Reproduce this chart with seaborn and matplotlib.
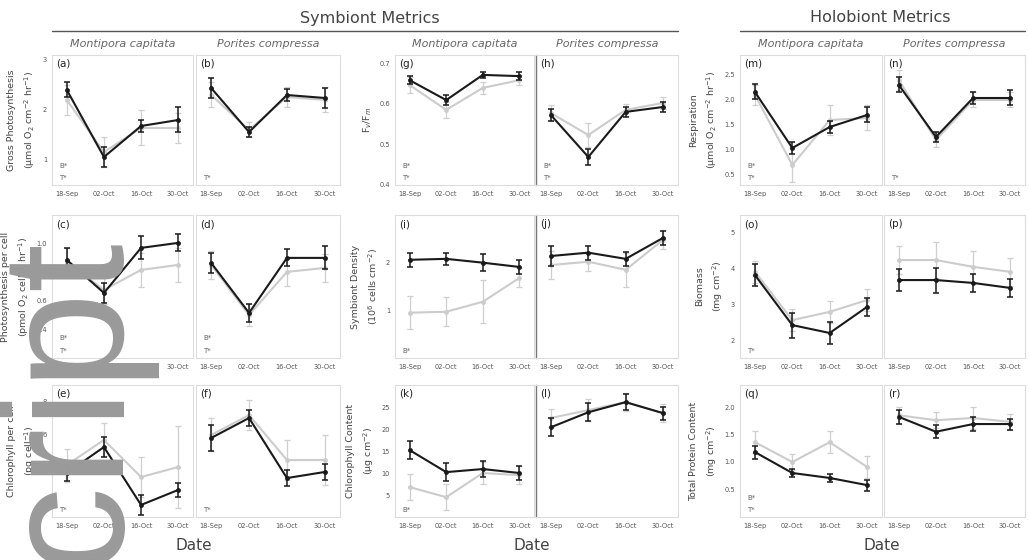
import numpy as np
import pandas as pd
import matplotlib
matplotlib.use("Agg")
import matplotlib.pyplot as plt
import seaborn as sns

sns.set_style("white")
plt.rcParams["font.family"] = ["DejaVu Sans"]

dates = ["18-Sep", "02-Oct", "16-Oct", "30-Oct"]
species = ["Montipora capitata", "Porites compressa"]
groups = ["Symbiont Metrics", "Holobiont Metrics"]

# ---- Row 1 ----
a_black = [2.40, 1.06, 1.68, 1.80]; a_black_se = [0.15, 0.20, 0.12, 0.25]
a_grey = [2.20, 1.16, 1.64, 1.64];  a_grey_se = [0.30, 0.30, 0.35, 0.30]
b_black = [2.44, 1.56, 2.30, 2.24]; b_black_se = [0.20, 0.10, 0.12, 0.20]
b_grey = [2.30, 1.60, 2.26, 2.20];  b_grey_se = [0.25, 0.15, 0.20, 0.25]
g_black = [0.658, 0.609, 0.671, 0.668]; g_black_se = [0.010, 0.012, 0.008, 0.010]
g_grey = [0.646, 0.585, 0.639, 0.658];  g_grey_se = [0.020, 0.020, 0.015, 0.012]
h_black = [0.572, 0.469, 0.580, 0.592]; h_black_se = [0.015, 0.020, 0.012, 0.012]
h_grey = [0.577, 0.523, 0.585, 0.602];  h_grey_se = [0.020, 0.030, 0.015, 0.015]
m_black = [2.16, 1.04, 1.46, 1.70]; m_black_se = [0.15, 0.12, 0.12, 0.15]
m_grey = [2.10, 0.70, 1.60, 1.64];  m_grey_se = [0.20, 0.35, 0.30, 0.25]
n_black = [2.30, 1.26, 2.04, 2.04]; n_black_se = [0.15, 0.10, 0.12, 0.15]
n_grey = [2.40, 1.20, 2.00, 2.00];  n_grey_se = [0.20, 0.15, 0.15, 0.15]
# ---- Row 2 ----
c_black = [0.886, 0.655, 0.970, 1.005]; c_black_se = [0.08, 0.07, 0.08, 0.06]
c_grey = [0.872, 0.676, 0.816, 0.851];  c_grey_se = [0.10, 0.10, 0.12, 0.12]
d_black = [0.865, 0.515, 0.900, 0.900]; d_black_se = [0.07, 0.06, 0.06, 0.08]
d_grey = [0.851, 0.501, 0.802, 0.830];  d_grey_se = [0.10, 0.08, 0.10, 0.10]
i_black = [2.06, 2.08, 2.00, 1.91]; i_black_se = [0.15, 0.12, 0.18, 0.15]
i_grey = [0.95, 0.97, 1.18, 1.68];  i_grey_se = [0.35, 0.30, 0.45, 0.20]
j_black = [2.14, 2.21, 2.08, 2.52]; j_black_se = [0.20, 0.15, 0.15, 0.15]
j_grey = [1.95, 2.02, 1.85, 2.48];  j_grey_se = [0.30, 0.20, 0.35, 0.20]
o_black = [3.82, 2.42, 2.20, 2.93]; o_black_se = [0.30, 0.35, 0.30, 0.25]
o_grey = [3.91, 2.56, 2.79, 3.12];  o_grey_se = [0.30, 0.30, 0.30, 0.30]
p_black = [3.68, 3.68, 3.60, 3.46]; p_black_se = [0.30, 0.35, 0.25, 0.25]
p_grey = [4.24, 4.24, 4.05, 3.91];  p_grey_se = [0.40, 0.50, 0.45, 0.40]
# ---- Row 3 ----
e_black = [3.67, 5.24, 1.73, 2.64]; e_black_se = [0.5, 0.6, 0.6, 0.4]
e_grey = [4.15, 5.67, 3.42, 4.03];  e_grey_se = [1.0, 1.0, 1.2, 2.5]
f_black = [5.79, 7.00, 3.36, 3.73]; f_black_se = [0.8, 0.5, 0.5, 0.5]
f_grey = [5.97, 7.18, 4.45, 4.45];  f_grey_se = [1.0, 0.9, 1.2, 1.5]
k_black = [15.2, 10.2, 10.9, 10.0]; k_black_se = [2.0, 2.0, 1.8, 1.5]
k_grey = [6.8, 4.5, 10.0, 9.5];     k_grey_se = [3.0, 3.0, 2.5, 2.0]
l_black = [20.4, 23.8, 26.1, 23.6]; l_black_se = [2.0, 2.0, 1.8, 1.5]
l_grey = [22.5, 24.3, 26.1, 23.6];  l_grey_se = [2.0, 2.5, 2.0, 2.0]
q_black = [1.18, 0.80, 0.71, 0.58]; q_black_se = [0.12, 0.08, 0.08, 0.10]
q_grey = [1.36, 1.00, 1.36, 0.91];  q_grey_se = [0.20, 0.15, 0.20, 0.20]
r_black = [1.82, 1.55, 1.69, 1.69]; r_black_se = [0.12, 0.12, 0.12, 0.10]
r_grey = [1.85, 1.76, 1.80, 1.73];  r_grey_se = [0.15, 0.15, 0.20, 0.15]

ylabels = {
    (0, 0): "Gross Photosynthesis\n(\u00b5mol O$_2$ cm$^{-2}$ hr$^{-1}$)",
    (0, 2): "F$_v$/F$_m$",
    (0, 4): "Respiration\n(\u00b5mol O$_2$ cm$^{-2}$ hr$^{-1}$)",
    (1, 0): "Photosynthesis per cell\n(pmol O$_2$ cell$^{-1}$ hr$^{-1}$)",
    (1, 2): "Symbiont Density\n(10$^6$ cells cm$^{-2}$)",
    (1, 4): "Biomass\n(mg cm$^{-2}$)",
    (2, 0): "Chlorophyll per cell\n(pg cell$^{-1}$)",
    (2, 2): "Chlorophyll Content\n(\u00b5g cm$^{-2}$)",
    (2, 4): "Total Protein Content\n(mg cm$^{-2}$)",
}

panels = [
    ("a", 0, 0, a_black, a_black_se, a_grey, a_grey_se, ["B*", "T*"]),
    ("b", 0, 1, b_black, b_black_se, b_grey, b_grey_se, ["T*"]),
    ("g", 0, 2, g_black, g_black_se, g_grey, g_grey_se, ["B*", "T*"]),
    ("h", 0, 3, h_black, h_black_se, h_grey, h_grey_se, ["B*", "T*"]),
    ("m", 0, 4, m_black, m_black_se, m_grey, m_grey_se, ["B*", "T*"]),
    ("n", 0, 5, n_black, n_black_se, n_grey, n_grey_se, ["T*"]),
    ("c", 1, 0, c_black, c_black_se, c_grey, c_grey_se, ["B*", "T*"]),
    ("d", 1, 1, d_black, d_black_se, d_grey, d_grey_se, ["B*", "T*"]),
    ("i", 1, 2, i_black, i_black_se, i_grey, i_grey_se, ["B*"]),
    ("j", 1, 3, j_black, j_black_se, j_grey, j_grey_se, []),
    ("o", 1, 4, o_black, o_black_se, o_grey, o_grey_se, ["T*"]),
    ("p", 1, 5, p_black, p_black_se, p_grey, p_grey_se, []),
    ("e", 2, 0, e_black, e_black_se, e_grey, e_grey_se, ["T*"]),
    ("f", 2, 1, f_black, f_black_se, f_grey, f_grey_se, ["T*"]),
    ("k", 2, 2, k_black, k_black_se, k_grey, k_grey_se, ["B*"]),
    ("l", 2, 3, l_black, l_black_se, l_grey, l_grey_se, []),
    ("q", 2, 4, q_black, q_black_se, q_grey, q_grey_se, ["B*", "T*"]),
    ("r", 2, 5, r_black, r_black_se, r_grey, r_grey_se, []),
]

# axis settings per (row, column pair)
ylims = {
    (0, 0): ((0.5, 3.1), [1, 2, 3]),
    (0, 1): ((0.40, 0.72), [0.4, 0.5, 0.6, 0.7]),
    (0, 2): ((0.3, 2.9), [0.5, 1.0, 1.5, 2.0, 2.5]),
    (1, 0): ((0.2, 1.2), [0.4, 0.6, 0.8, 1.0]),
    (1, 1): ((0.0, 3.0), [1, 2]),
    (1, 2): ((1.5, 5.5), [2, 3, 4, 5]),
    (2, 0): ((1, 9), [2, 4, 6, 8]),
    (2, 1): ((0, 30), [5, 10, 15, 20, 25]),
    (2, 2): ((0, 2.4), [0.5, 1.0, 1.5, 2.0]),
}

W, H = 1029, 560
fig = plt.figure(figsize=(W / 100, H / 100), dpi=100)

colx = [(52, 193), (196, 340), (395, 534), (536, 678), (740, 882), (884, 1025)]
rowy = [(55, 185), (215, 358), (385, 517)]

xs = np.arange(len(dates))
for letter, r, c, blk, blk_se, gry, gry_se, stats in panels:
    x0, x1 = colx[c]
    y0, y1 = rowy[r]
    ax = fig.add_axes([x0 / W, 1 - y1 / H, (x1 - x0) / W, (y1 - y0) / H])
    df = pd.DataFrame({
        "x": np.concatenate([xs, xs]),
        "value": np.concatenate([gry, blk]),
        "treatment": ["grey"] * 4 + ["black"] * 4,
    })
    ax.errorbar(xs, gry, yerr=gry_se, fmt="none", ecolor="#cfcfcf", elinewidth=0.9,
                capsize=2, capthick=0.9, zorder=1)
    ax.errorbar(xs, blk, yerr=blk_se, fmt="none", ecolor="#1a1a1a", elinewidth=1.1,
                capsize=2.5, capthick=1.1, zorder=3)
    sns.lineplot(data=df, x="x", y="value", hue="treatment",
                 palette={"grey": "#cccccc", "black": "#1a1a1a"},
                 hue_order=["grey", "black"], marker="o", markersize=3.5,
                 markeredgewidth=0, linewidth=1.5, legend=False, ax=ax, zorder=2)
    lim, ticks = ylims[(r, c // 2)]
    ax.set_ylim(*lim)
    ax.set_xlim(-0.4, 3.4)
    ax.set_xticks(xs)
    ax.set_xticklabels(dates, fontsize=4.8, color="#555555")
    ax.set_xlabel("")
    ax.set_ylabel("")
    if c % 2 == 0:
        ax.set_yticks(ticks)
        ax.tick_params(axis="y", labelsize=4.8, labelcolor="#555555", length=2,
                       width=0.5, color="#999999", pad=1.5)
        ax.set_ylabel(ylabels[(r, c)], fontsize=6.8, color="#444444", labelpad=4,
                      linespacing=1.6)
    else:
        ax.set_yticks([])
    ax.tick_params(axis="x", length=2, width=0.5, color="#999999", pad=2)
    for s in ax.spines.values():
        s.set_color("#dddddd")
        s.set_linewidth(0.8)
    if c == 3:
        ax.spines["left"].set_color("#777777")
        ax.spines["left"].set_linewidth(1.0)
    ax.text(0.03, 0.97, "(" + letter + ")", transform=ax.transAxes, ha="left",
            va="top", fontsize=7.5, color="#222222")
    for k, s in enumerate(stats[::-1]):
        ax.text(0.05, 0.03 + k * 0.09, s, transform=ax.transAxes, ha="left",
                va="bottom", fontsize=5, color="#666666")

# species titles
for c in range(6):
    x0, x1 = colx[c]
    fig.text((x0 + x1) / 2 / W, 1 - 44 / H, species[c % 2], ha="center", va="center",
             fontsize=8, style="italic", color="#666666")

# group headers
fig.text(370 / W, 1 - 18 / H, groups[0], ha="center", va="center", fontsize=11.5,
         color="#444444")
fig.text(880 / W, 1 - 18 / H, groups[1], ha="center", va="center", fontsize=11.5,
         color="#444444")
fig.add_artist(plt.Line2D([52 / W, 678 / W], [1 - 31 / H, 1 - 31 / H], color="#555555",
                          lw=1.0))
fig.add_artist(plt.Line2D([740 / W, 1025 / W], [1 - 31 / H, 1 - 31 / H], color="#555555",
                          lw=1.0))

# Date labels
for xc in [194, 532, 882]:
    fig.text(xc / W, 1 - 546 / H, "Date", ha="center", va="center", fontsize=11,
             color="#444444")

# watermark
fig.text(110 / W, 1 - 228 / H, "Manuscript", rotation=90, rotation_mode="anchor",
         ha="right", va="baseline", fontsize=126, family="Liberation Sans",
         color="#9a9a9a", zorder=20)

fig.savefig("out.png", dpi=100)
